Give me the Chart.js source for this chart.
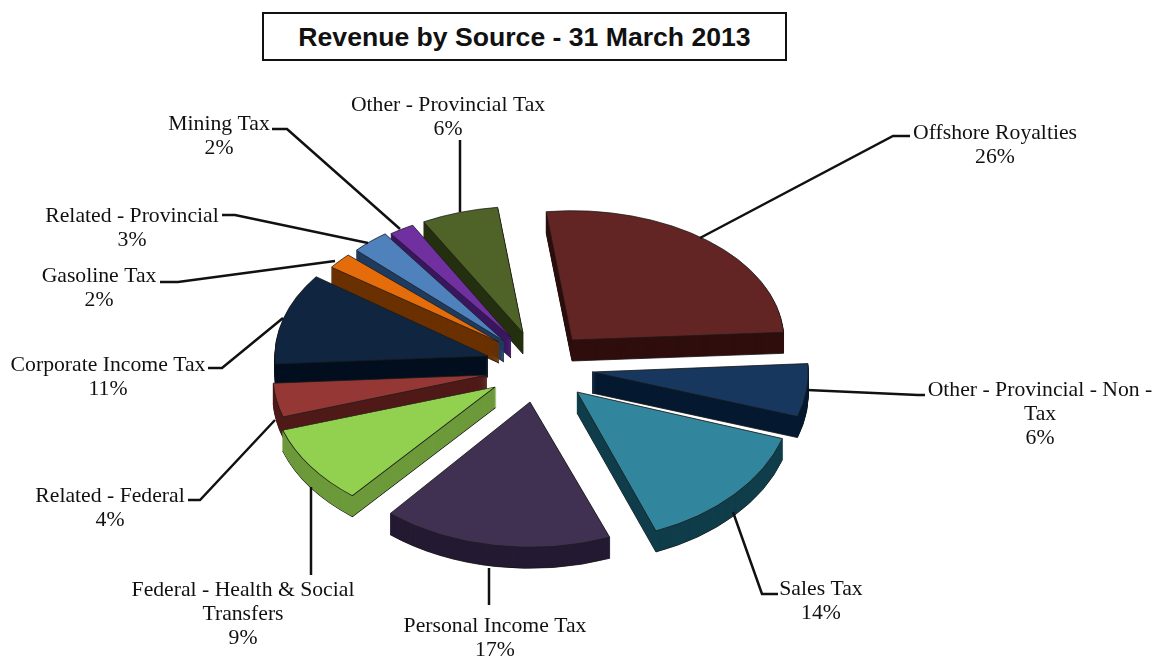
<!DOCTYPE html>
<html>
<head>
<meta charset="utf-8">
<title>Revenue by Source</title>
<script src="https://cdn.jsdelivr.net/npm/chart.js@4/dist/chart.umd.min.js"></script>
<style>
  html, body { margin: 0; padding: 0; background: #fff; }
  #wrap { position: relative; width: 1156px; height: 658px; overflow: hidden; }
  #chartTitle {
    position: absolute; left: 262px; top: 12px; width: 521px; height: 45px;
    border: 2.5px solid #111; text-align: center; color: #111; background: #fff;
    font: bold 26.6px "Liberation Sans", Arial, sans-serif; line-height: 47px;
  }
</style>
</head>
<body>
<div id="wrap">
  <canvas id="revenueChart" width="1156" height="658"></canvas>
  <div id="chartTitle">Revenue by Source - 31 March 2013</div>
</div>
<script>
const categories = [
  "Offshore Royalties", "Other - Provincial - Non - Tax", "Sales Tax", "Personal Income Tax",
  "Federal - Health & Social Transfers", "Related - Federal", "Corporate Income Tax",
  "Gasoline Tax", "Related - Provincial", "Mining Tax", "Other - Provincial Tax"
];
const percentValues = [26, 6, 14, 17, 9, 4, 11, 2, 3, 2, 6];

const topColors = ['#632523', '#17375e', '#31859c', '#403152', '#92d050', '#953735', '#10253f', '#e46c0a', '#4f81bd', '#7030a0', '#4f6228'];
const sideColors = ['#2f0e0d', '#051a30', '#0f3d4a', '#241a33', '#6d9a3b', '#4f1a18', '#030f1e', '#6a3100', '#1f3c60', '#3a1660', '#232f10'];

// how far each slice is pulled out of the pie, in screen pixels
const explodeX = [39, 59, 44, -3, -38, -46, -45, -34, -29, -22, -10];
const explodeY = [-24, 8, 28, 38, 23, 11, -8, -22, -23, -27, -31];
// fake perspective: near slices look bigger and less flat than far ones
const sliceSize = [0.97, 0.99, 0.99, 1.0, 1.02, 0.98, 0.975, 0.95, 0.93, 0.94, 0.95];
const sliceTilt = [0.61, 0.66, 0.69, 0.665, 0.635, 0.64, 0.63, 0.61, 0.65, 0.62, 0.61];
// order the slices are painted in, back to front
const paintOrder = [10, 9, 8, 7, 0, 6, 1, 5, 2, 4, 3];

// label wrapping, text centre and leader lines
const labelLines = [
  ["Offshore Royalties"], ["Other - Provincial - Non -", "Tax"], ["Sales Tax"], ["Personal Income Tax"],
  ["Federal - Health & Social", "Transfers"], ["Related - Federal"], ["Corporate Income Tax"],
  ["Gasoline Tax"], ["Related - Provincial"], ["Mining Tax"], ["Other - Provincial Tax"]
];
const labelX = [995, 1040, 821, 495, 243, 110, 108, 99, 132, 219, 448];
const labelY = [133, 390, 589, 626, 590, 496, 365, 276, 216, 124, 105];
const leaders = [
  [[700, 238], [893, 136], [910, 136]],
  [[807, 390], [918, 395], [925, 395]],
  [[733, 512], [762, 594], [778, 594]],
  [[489, 568], [489, 605]],
  [[311, 487], [311, 575]],
  [[275, 420], [200, 500], [188, 500]],
  [[283, 318], [222, 368], [208, 368]],
  [[335, 261], [178, 282], [160, 282]],
  [[368, 243], [235, 215], [222, 215]],
  [[400, 229], [287, 129], [272, 129]],
  [[460, 212], [460, 140]]
];

const depth = 21;      // thickness of the slices
const centerY = 364;

// move the context so the slice is tilted and pulled out
function placeSlice(ctx, arc, i, dy) {
  ctx.translate(arc.x + explodeX[i], centerY + explodeY[i] + dy);
  ctx.scale(sliceSize[i], sliceSize[i] * sliceTilt[i]);
  ctx.translate(-arc.x, -arc.y);
}

const pie3d = {
  id: 'pie3d',
  beforeDatasetsDraw(chart) {
    const ctx = chart.ctx;
    const arcs = chart.getDatasetMeta(0).data;
    paintOrder.forEach(i => {
      const arc = arcs[i];
      for (let d = depth; d > 0; d--) {
        ctx.save();
        placeSlice(ctx, arc, i, d);
        ctx.beginPath();
        ctx.moveTo(arc.x, arc.y);
        ctx.arc(arc.x, arc.y, arc.outerRadius, arc.startAngle, arc.endAngle);
        ctx.closePath();
        ctx.fillStyle = sideColors[i];
        ctx.strokeStyle = d === depth ? '#111' : sideColors[i];
        ctx.lineWidth = 1;
        ctx.fill();
        ctx.stroke();
        ctx.restore();
      }
      ctx.save();
      placeSlice(ctx, arc, i, 0);
      arc.draw(ctx);
      ctx.restore();
    });
    return false;
  },
  afterDraw(chart) {
    const ctx = chart.ctx;
    categories.forEach((name, i) => {
      const line = leaders[i];
      ctx.beginPath();
      ctx.moveTo(line[0][0], line[0][1]);
      line.slice(1).forEach(p => ctx.lineTo(p[0], p[1]));
      ctx.strokeStyle = '#111';
      ctx.lineWidth = 2.5;
      ctx.stroke();

      ctx.font = '21.7px "Liberation Serif", "Times New Roman", serif';
      ctx.fillStyle = '#111';
      ctx.textAlign = 'center';
      ctx.textBaseline = 'middle';
      const lines = labelLines[i].concat(percentValues[i] + '%');
      lines.forEach((t, n) => ctx.fillText(t, labelX[i], labelY[i] + n * 24.3));
    });
  }
};

new Chart(document.getElementById('revenueChart'), {
  type: 'pie',
  data: {
    labels: categories,
    datasets: [{
      data: percentValues,
      backgroundColor: topColors,
      borderColor: '#1a1a1a',
      borderWidth: 1
    }]
  },
  options: {
    responsive: false,
    animation: false,
    rotation: -7,
    layout: { padding: { top: 110, bottom: 110, left: 0, right: 90 } },
    plugins: { legend: { display: false }, tooltip: { enabled: false } },
    events: []
  },
  plugins: [pie3d]
});
</script>
</body>
</html>
